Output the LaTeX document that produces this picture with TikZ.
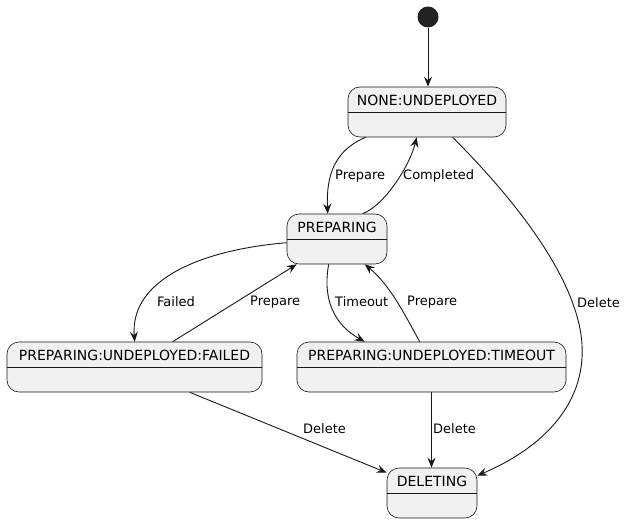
\documentclass[tikz,border=0pt]{standalone}
\usepackage{fontspec}
\setmainfont{DejaVu Sans}
\usetikzlibrary{arrows.meta,calc}
\definecolor{boxfill}{HTML}{F1F1F1}
\definecolor{boxline}{HTML}{181818}
\definecolor{startfill}{HTML}{222222}
\tikzset{
  statebox/.style={draw=boxline, fill=boxfill, line width=0.6bp, rounded corners=12bp, inner sep=0pt, minimum height=50bp},
  statetitle/.style={inner sep=0pt, font=\fontsize{14bp}{16bp}\selectfont, text=black},
  sepline/.style={draw=boxline, line width=0.6bp},
  edge/.style={draw=boxline, line width=0.9bp, -{Stealth[length=10bp,width=8bp,inset=3.5bp]}},
  lbl/.style={inner sep=0pt, anchor=west, font=\fontsize{13bp}{15bp}\selectfont, text=black},
}
\newcommand\umlstate[5]{%
  \node[statebox, minimum width=#4bp] (#1) at (#2,#3) {};
  \node[statetitle] (#1T) at ($(#1.north)+(0,14)$) {#5};
  \draw[sepline] ($(#1.north west)+(0,26)$) -- ($(#1.north east)+(0,26)$);
}
\begin{document}
\begin{tikzpicture}[x=1bp,y=-1bp]
\useasboundingbox (0,0) rectangle (625,523);
\node[circle, fill=startfill, minimum size=21bp, inner sep=0pt] (start) at (428,17) {};
\umlstate{none}{427}{112}{158}{NONE:UNDEPLOYED}
\umlstate{prep}{337}{239}{100}{PREPARING}
\umlstate{failed}{134.5}{367}{255}{PREPARING:UNDEPLOYED:FAILED}
\umlstate{timeout}{431.5}{367}{269}{PREPARING:UNDEPLOYED:TIMEOUT}
\umlstate{del}{432}{493}{90}{DELETING}

% start -> none
\draw[edge] (start) -- (start |- none.north);
% none -> prep (Prepare)
\draw[edge] ($(none.south west)+(18,0)$) .. controls (335,150) and (326,175) .. ($(prep.north west)+(41,0)$);
\node[lbl] (l1) at (335,176) {Prepare};
% prep -> none (Completed)
\draw[edge] ($(prep.north west)+(76,0)$) .. controls (385,205) and (410,165) .. ($(none.south west)+(69,0)$);
\node[lbl] (l2) at (403,176) {Completed};
% none -> del (Delete)
\draw[edge] ($(none.south west)+(105,0)$) .. controls (490,175) and (560,250) .. (578,320) .. controls (595,385) and (560,440) .. ($(del.north east)+(0,8)$);
\node[lbl] (l3) at (577,303) {Delete};
% prep -> failed (Failed)
\draw[edge] ($(prep.north west)+(0,29)$) .. controls (200,250) and (130,280) .. ($(failed.north west)+(128,0)$);
\node[lbl] (l4) at (157,302) {Failed};
% failed -> prep (Prepare)
\draw[edge] ($(failed.north west)+(166,0)$) -- ($(prep.south west)+(10,0)$);
\node[lbl] (l5) at (250,302) {Prepare};
% prep -> timeout (Timeout)
\draw[edge] ($(prep.south west)+(42,0)$) .. controls (322,300) and (335,325) .. ($(timeout.north west)+(68,0)$);
\node[lbl] (l6) at (335,302) {Timeout};
% timeout -> prep (Prepare)
\draw[edge] ($(timeout.north west)+(123,0)$) .. controls (405,315) and (390,285) .. ($(prep.south west)+(78,0)$);
\node[lbl] (l7) at (407,302) {Prepare};
% failed -> del (Delete)
\draw[edge] ($(failed.south west)+(183,0)$) -- ($(del.north west)+(0,5)$);
\node[lbl] (l8) at (303,429) {Delete};
% timeout -> del (Delete)
\draw[edge] (timeout.south) -- (timeout.south |- del.north);
\node[lbl] (l9) at (433,429) {Delete};
\end{tikzpicture}
\end{document}
